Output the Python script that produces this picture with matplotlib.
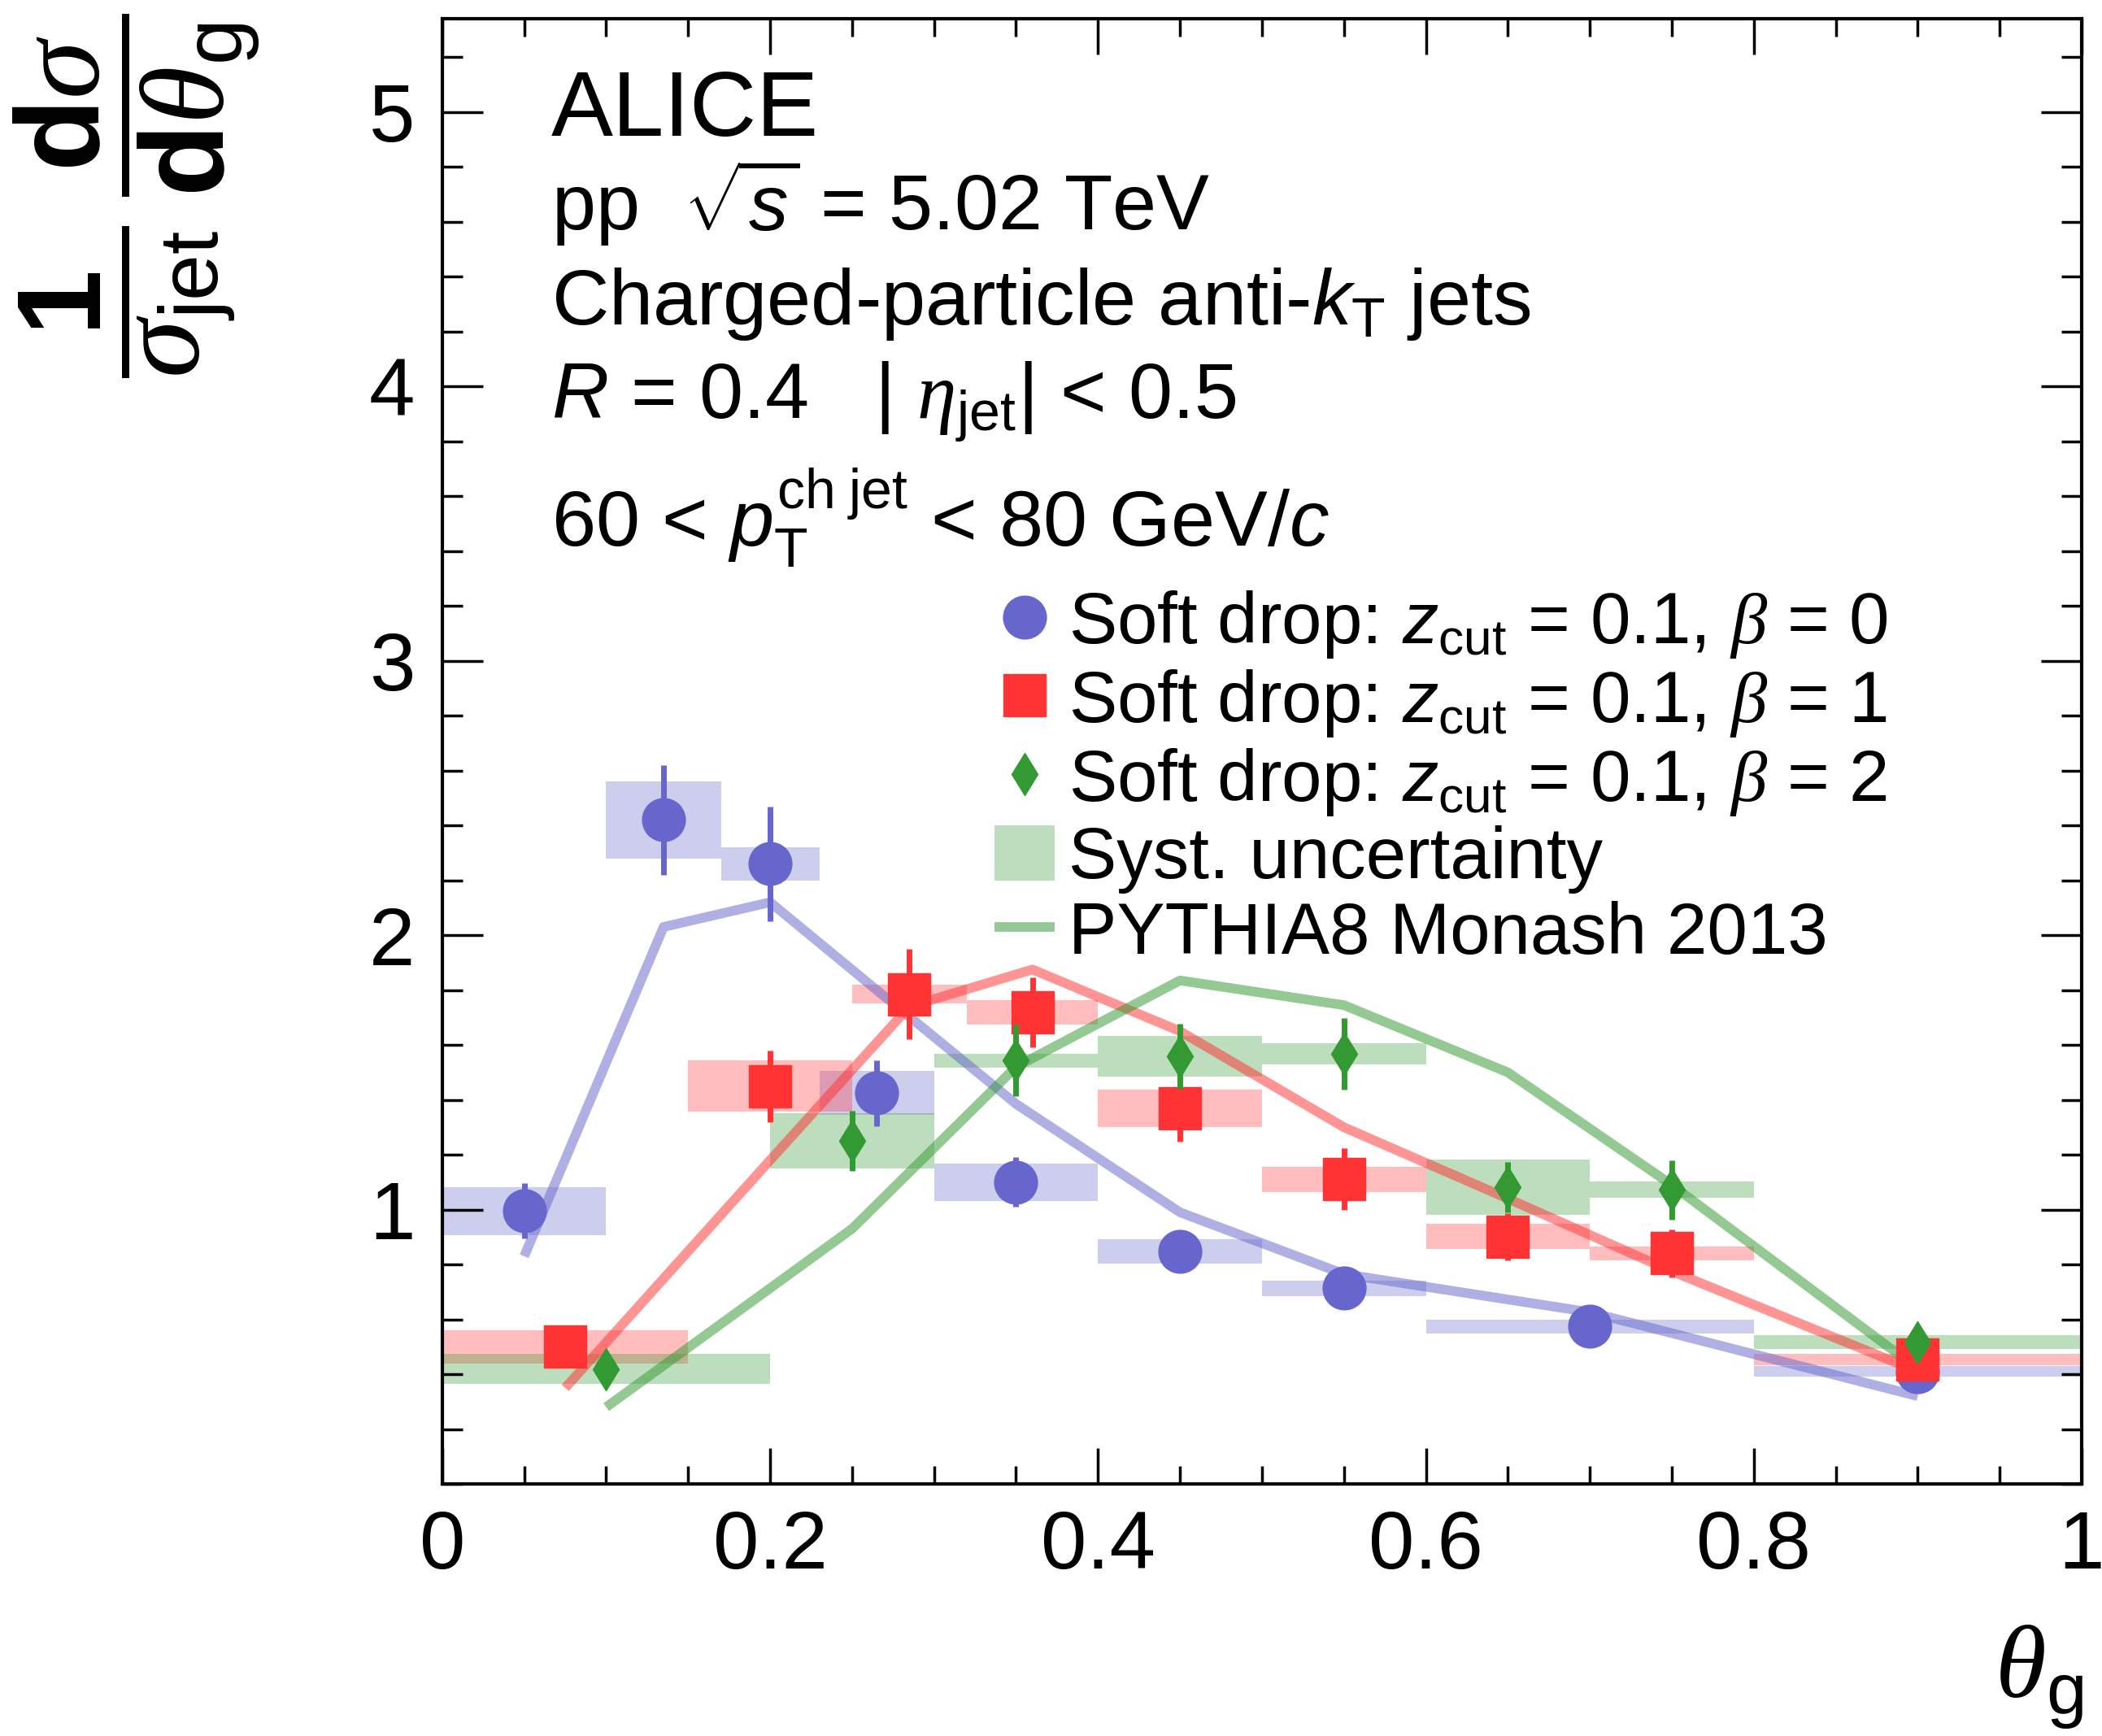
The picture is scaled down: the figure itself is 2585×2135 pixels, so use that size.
import matplotlib
matplotlib.use("Agg")
import matplotlib.pyplot as plt
from matplotlib.ticker import MultipleLocator, FixedLocator, FixedFormatter
from matplotlib.lines import Line2D
from matplotlib.patches import Patch
import numpy as np

plt.rcParams["font.family"] = ["Liberation Sans", "DejaVu Sans"]
plt.rcParams["mathtext.fontset"] = "custom"
plt.rcParams["mathtext.rm"] = "Liberation Sans"
plt.rcParams["mathtext.it"] = "Liberation Sans:italic"
plt.rcParams["mathtext.bf"] = "Liberation Sans:bold"
plt.rcParams["mathtext.cal"] = "Liberation Serif:italic"  # greek letters, Times-like

# soft drop beta = 0
blue_edges = [0.0, 0.1, 0.17, 0.23, 0.3, 0.4, 0.5, 0.6, 0.8, 1.0]
blue_x = [0.05, 0.135, 0.2, 0.265, 0.35, 0.45, 0.55, 0.7, 0.9]
blue_y = [0.995, 2.42, 2.26, 1.425, 1.10, 0.848, 0.713, 0.574, 0.41]
blue_stat = [0.10, 0.20, 0.21, 0.12, 0.09, 0.05, 0.04, 0.03, 0.02]
blue_syst = [0.087, 0.14, 0.06, 0.08, 0.068, 0.045, 0.028, 0.026, 0.02]

# soft drop beta = 1
red_edges = [0.0, 0.15, 0.25, 0.32, 0.4, 0.5, 0.6, 0.7, 0.8, 1.0]
red_x = [0.075, 0.2, 0.285, 0.36, 0.45, 0.55, 0.65, 0.75, 0.9]
red_y = [0.50, 1.45, 1.785, 1.719, 1.369, 1.111, 0.902, 0.841, 0.453]
red_stat = [0.04, 0.13, 0.165, 0.128, 0.12, 0.112, 0.086, 0.087, 0.03]
red_syst = [0.06, 0.094, 0.035, 0.044, 0.068, 0.046, 0.047, 0.025, 0.02]

# soft drop beta = 2
green_edges = [0.0, 0.2, 0.3, 0.4, 0.5, 0.6, 0.7, 0.8, 1.0]
green_x = [0.1, 0.25, 0.35, 0.45, 0.55, 0.65, 0.75, 0.9]
green_y = [0.419, 1.25, 1.543, 1.558, 1.568, 1.082, 1.072, 0.517]
green_stat = [0.04, 0.11, 0.13, 0.118, 0.13, 0.092, 0.108, 0.05]
green_syst = [0.055, 0.10, 0.025, 0.074, 0.038, 0.10, 0.03, 0.024]

# PYTHIA8 Monash 2013
blue_mc_x = [0.05, 0.135, 0.2, 0.265, 0.35, 0.45, 0.55, 0.7, 0.9]
blue_mc_y = [0.83, 2.03, 2.12, 1.80, 1.385, 0.99, 0.765, 0.626, 0.32]
red_mc_x = [0.075, 0.2, 0.285, 0.36, 0.45, 0.55, 0.65, 0.75, 0.9]
red_mc_y = [0.35, 1.18, 1.74, 1.875, 1.65, 1.30, 1.04, 0.775, 0.41]
green_mc_x = [0.1, 0.25, 0.35, 0.45, 0.55, 0.65, 0.75, 0.9]
green_mc_y = [0.28, 0.93, 1.52, 1.835, 1.745, 1.50, 1.09, 0.42]

x_ticks = [0, 0.2, 0.4, 0.6, 0.8, 1.0]
x_ticklabels = ["0", "0.2", "0.4", "0.6", "0.8", "1"]
y_ticks = [1, 2, 3, 4, 5]
y_ticklabels = ["1", "2", "3", "4", "5"]

BLUE = "#6666cc"
RED = "#ff3333"
GREEN = "#339933"
BOX_ALPHA = 0.32
MC_ALPHA = 0.52

series = [
    (BLUE, "o", 38, blue_edges, blue_x, blue_y, blue_stat, blue_syst, blue_mc_x, blue_mc_y),
    (RED, "s", 38, red_edges, red_x, red_y, red_stat, red_syst, red_mc_x, red_mc_y),
    (GREEN, "d", 26.5, green_edges, green_x, green_y, green_stat, green_syst, green_mc_x, green_mc_y),
]

fig = plt.figure(figsize=(25.85, 21.35), dpi=100)
ax = fig.add_axes([0.2104, 0.1452, 0.9903 - 0.2104, 0.9892 - 0.1452])

for k, (col, mk, ms, edges, x, y, stat, syst, mcx, mcy) in enumerate(series):
    edges = np.asarray(edges)
    y = np.asarray(y)
    syst = np.asarray(syst)
    ax.bar(edges[:-1], 2 * syst, width=np.diff(edges), bottom=y - syst, align="edge",
           color=col, alpha=BOX_ALPHA, linewidth=0, zorder=1)
for k, (col, mk, ms, edges, x, y, stat, syst, mcx, mcy) in enumerate(series):
    ax.plot(mcx, mcy, color=col, alpha=MC_ALPHA, lw=8.5, solid_capstyle="butt", zorder=2)
for k, (col, mk, ms, edges, x, y, stat, syst, mcx, mcy) in enumerate(series):
    ax.errorbar(x, y, yerr=stat, fmt=mk, ms=ms, color=col, mec=col, elinewidth=5,
                capsize=0, zorder=3 + k)

ax.set_xlim(0, 1)
ax.set_ylim(0, 5.34)
ax.xaxis.set_major_locator(FixedLocator(x_ticks))
ax.xaxis.set_major_formatter(FixedFormatter(x_ticklabels))
ax.xaxis.set_minor_locator(MultipleLocator(0.05))
ax.yaxis.set_major_locator(FixedLocator(y_ticks))
ax.yaxis.set_major_formatter(FixedFormatter(y_ticklabels))
ax.yaxis.set_minor_locator(MultipleLocator(0.2))
ax.tick_params(which="both", direction="in", top=True, right=True, width=2.5, labelsize=73)
ax.tick_params(axis="x", which="major", length=32, pad=22)
ax.tick_params(axis="x", which="minor", length=16)
ax.tick_params(axis="y", which="major", length=36, pad=24)
ax.tick_params(axis="y", which="minor", length=18)
for sp in ax.spines.values():
    sp.set_linewidth(3)

# header text
ax.text(0.0665, 0.920, "ALICE", transform=ax.transAxes, fontsize=82, va="baseline")
lines = [
    (0.8557, r"pp  $\sqrt{s}$ = 5.02 TeV"),
    (0.7914, r"Charged-particle anti-$k_{\rm T}$ jets"),
    (0.7270, r"$R$ = 0.4   | $\mathcal{\eta}_{\rm jet}$| < 0.5"),
    (0.6398, r"60 < $p_{\rm T}^{\rm ch\;jet}$ < 80 GeV/$c$"),
]
for yy, s in lines:
    ax.text(0.0665, yy, s, transform=ax.transAxes, fontsize=70, va="baseline")

handles = [
    Line2D([], [], ls="none", marker="o", ms=38, color=BLUE),
    Line2D([], [], ls="none", marker="s", ms=38, color=RED),
    Line2D([], [], ls="none", marker="d", ms=26.5, color=GREEN),
    Patch(facecolor=GREEN, alpha=BOX_ALPHA, linewidth=0),
    Line2D([], [], color=GREEN, alpha=MC_ALPHA, lw=8.5, solid_capstyle="butt"),
]
labels = [
    r"Soft drop: $z_{\rm cut}$ = 0.1, $\mathcal{\beta}$ = 0",
    r"Soft drop: $z_{\rm cut}$ = 0.1, $\mathcal{\beta}$ = 1",
    r"Soft drop: $z_{\rm cut}$ = 0.1, $\mathcal{\beta}$ = 2",
    "Syst. uncertainty",
    "PYTHIA8 Monash 2013",
]
ax.legend(handles, labels, loc="upper left", bbox_to_anchor=(0.3368, 0.611),
          frameon=False, fontsize=64, handlelength=0.83, handleheight=0.8,
          handletextpad=0.2, labelspacing=0.1, borderpad=0, borderaxespad=0)

fig.text(0.065, 0.992,
         r"$\dfrac{\mathbf{1}}{\mathcal{\sigma}_{\rm jet}}\,\dfrac{\mathbf{d}\mathcal{\sigma}}{\mathbf{d}\mathcal{\theta}_{\rm g}}$",
         rotation=90, ha="center", va="top", fontsize=105)
fig.text(0.9915, 0.003, r"$\mathcal{\theta}_{\rm g}$", ha="right", va="bottom", fontsize=92)

fig.savefig("out.png", dpi=100)
